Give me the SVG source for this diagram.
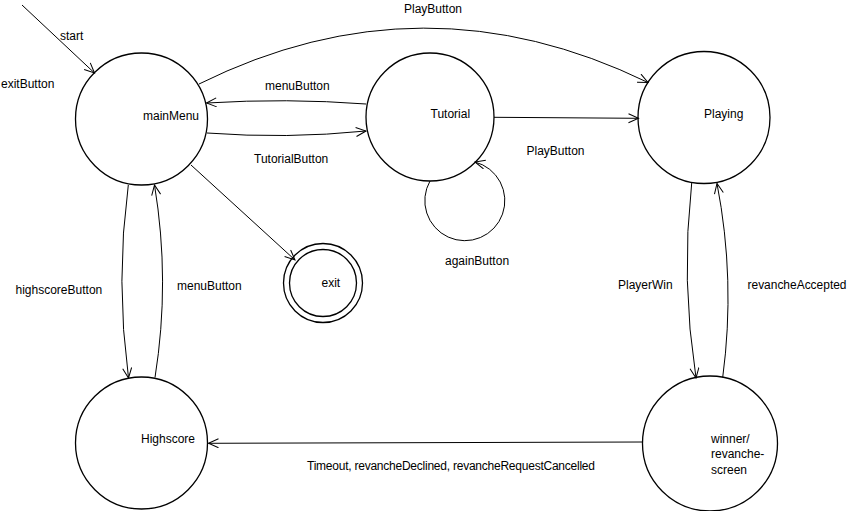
<svg xmlns="http://www.w3.org/2000/svg" width="849" height="511" viewBox="0 0 849 511">
  <style>
    .state { fill: #fff; stroke: #000; stroke-width: 1.3; }
    .edge { fill: none; stroke: #000; stroke-width: 1; marker-end: url(#arrow); }
    text { font-family: "Liberation Sans", Arial, sans-serif; font-size: 12px; fill: #000; }
  </style>
  <defs>
    <marker id="arrow" markerUnits="userSpaceOnUse" markerWidth="14" markerHeight="12" refX="11" refY="5" orient="auto" viewBox="0 0 14 12">
      <path d="M1,0.5 L11,5 L1,9.5" fill="none" stroke="#000" stroke-width="1"/>
    </marker>
  </defs>
  <rect width="849" height="511" fill="#fff"/>

  <!-- states -->
  <g id="mainMenu">
    <circle class="state" cx="141.5" cy="119" r="66"/>
    <text x="143" y="120">mainMenu</text>
  </g>
  <g id="Tutorial">
    <circle class="state" cx="430" cy="117" r="64"/>
    <text x="430.5" y="118">Tutorial</text>
  </g>
  <g id="Playing">
    <circle class="state" cx="704" cy="117.5" r="66"/>
    <text x="704" y="118">Playing</text>
  </g>
  <g id="exit">
    <circle class="state" cx="323" cy="283" r="39.5"/>
    <circle class="state" cx="323" cy="283" r="33.5"/>
    <text x="321.5" y="287">exit</text>
  </g>
  <g id="Highscore">
    <circle class="state" cx="141.5" cy="443" r="66"/>
    <text x="141" y="443">Highscore</text>
  </g>
  <g id="winner">
    <circle class="state" cx="710" cy="443.5" r="67.5"/>
    <text x="711" y="443">winner/</text>
    <text x="711" y="458">revanche-</text>
    <text x="711" y="474">screen</text>
  </g>

  <!-- transitions -->
  <g id="connectors">
    <path class="edge" d="M22,5 L94.5,73"/>
    <path class="edge" d="M199,84 Q423,-27 648,82.5"/>
    <path class="edge" d="M366,104 Q287,98 206.5,103"/>
    <path class="edge" d="M207,133 Q287,139 366,131"/>
    <path class="edge" d="M494,117.3 L638.5,118.3"/>
    <path class="edge" d="M430,181 A40 40 0 1 0 475,162"/>
    <path class="edge" d="M191,165 L295,260"/>
    <path class="edge" d="M128.3,185 Q115.4,281 128.5,378"/>
    <path class="edge" d="M155,377.5 Q170.4,281 154.5,185"/>
    <path class="edge" d="M691.7,183 Q680.8,280 696,378"/>
    <path class="edge" d="M722.7,377.5 Q735.7,280 717,183.5"/>
    <path class="edge" d="M642.5,442 L208.5,443.3"/>
  </g>

  <!-- transition labels -->
  <g id="labels">
    <text x="60" y="40">start</text>
    <text x="1" y="88">exitButton</text>
    <text x="404" y="12.5">PlayButton</text>
    <text x="265" y="90">menuButton</text>
    <text x="254" y="163">TutorialButton</text>
    <text x="526.5" y="155">PlayButton</text>
    <text x="445" y="265">againButton</text>
    <text x="15.5" y="293.5">highscoreButton</text>
    <text x="177" y="290">menuButton</text>
    <text x="618" y="288.5">PlayerWin</text>
    <text x="747.5" y="288.5" textLength="99" lengthAdjust="spacingAndGlyphs">revancheAccepted</text>
    <text x="307" y="470" textLength="288" lengthAdjust="spacing">Timeout, revancheDeclined, revancheRequestCancelled</text>
  </g>
</svg>
